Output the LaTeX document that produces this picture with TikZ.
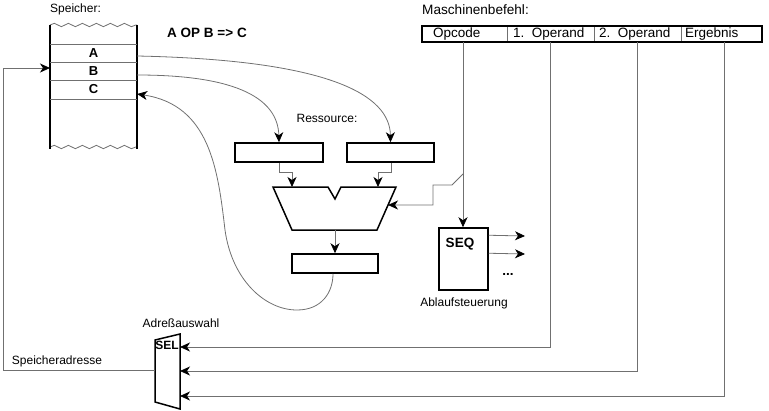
\documentclass[tikz,border=0pt]{standalone}
\usepackage{fontspec}
\setmainfont{Liberation Sans}
\usetikzlibrary{arrows.meta,decorations.pathmorphing,calc}
\definecolor{wiregray}{HTML}{707070}
\begin{document}
\begin{tikzpicture}[x=1pt,y=-1pt,
  lbl/.style={font=\fontsize{12}{14}\selectfont, inner sep=0pt},
  biglbl/.style={font=\fontsize{13.6}{16}\selectfont, inner sep=0pt},
  blbl/.style={font=\fontsize{13.5}{16}\selectfont\bfseries, inner sep=0pt},
  thickbox/.style={draw=black, line width=1.5pt},
  wire/.style={draw=wiregray, line width=0.8pt},
  arr/.style={wire, -{Stealth[length=10pt,width=9pt,inset=3pt,color=black]}},
  reg/.style={thickbox, minimum height=19pt, inner sep=0pt},
  cell/.style={inner sep=0pt, minimum width=87pt, minimum height=18pt, font=\fontsize{13}{15}\selectfont\bfseries},
  field/.style={inner sep=0pt, minimum height=16pt},
  ftext/.style={inner sep=0pt, anchor=west, font=\fontsize{13.5}{15}\selectfont},
  wavy/.style={wire, decorate, decoration={snake, amplitude=1.7pt, segment length=14pt}},
  ]
\useasboundingbox (0,0) rectangle (769,410);

% ---------- memory ----------
\node[lbl, anchor=west] (speicher) at (50,9) {Speicher:};
\node[blbl] (formel) at (207,33) {A OP B => C};
\draw[wavy] (50,25) -- (137,25);
\draw[wavy] (50,147) -- (137,147);
\draw[thickbox] (50,25) -- (50,149);
\draw[thickbox] (137,25) -- (137,149);
\foreach \yy in {44,62,80,99} \draw[wire] (50,\yy) -- (137,\yy);
\node[cell] (cellA) at (93.5,53) {A};
\node[cell] (cellB) at (93.5,71) {B};
\node[cell] (cellC) at (93.5,89.5) {C};
\coordinate (memin) at (50,68);

% ---------- instruction ----------
\node[biglbl, anchor=west] (befehl) at (422,10) {Maschinenbefehl:};
\node[field, minimum width=85pt] (opc) at (464.5,34) {};
\node[field, minimum width=87pt] (op1) at (550.5,34) {};
\node[field, minimum width=87pt] (op2) at (637.5,34) {};
\node[field, minimum width=81pt] (erg) at (721.5,34) {};
\node[ftext] (topc) at (433,34) {Opcode};
\node[ftext] (top1) at (513,34) {1.~~Operand};
\node[ftext] (top2) at (599,34) {2.~~Operand};
\node[ftext] (terg) at (685,34) {Ergebnis};
\draw[wire] (507,26) -- (507,42);
\draw[wire] (594,26) -- (594,42);
\draw[wire] (681,26) -- (681,42);
\draw[thickbox] (422,26) rectangle (762,42);

% ---------- resource ----------
\node[lbl] (ress) at (327,118) {Ressource:};
\node[reg, minimum width=88pt] (regL) at (279,152.5) {};
\node[reg, minimum width=87pt] (regR) at (390.5,152.5) {};
\node[reg, minimum width=86pt] (regO) at (335,263.5) {};
\draw[thickbox, line join=miter] (273,187) -- (328,187) -- (335,199) -- (341,187) -- (396,187) -- (377,230) -- (292,230) -- cycle;
\coordinate (aluinL) at (292,187);
\coordinate (aluinR) at (378,187);
\coordinate (aluout) at (335,230);
\coordinate (aluctl) at (388,205);

% ---------- sequencer ----------
\node[thickbox, minimum width=49pt, minimum height=62pt, inner sep=0pt] (seq) at (463.5,259) {};
\node[blbl] (seqlbl) at (460,244) {SEQ};
\node[blbl] (dots) at (508,274) {...};
\node[lbl] (ablauf) at (464,303) {Ablaufsteuerung};
\coordinate (br) at (463,174);
\coordinate (seqo1) at (525,236);
\coordinate (seqo2) at (525,254);

% ---------- address select ----------
\node[lbl] (adr) at (181,323) {Adreßauswahl};
\draw[thickbox, line join=miter] (155,340) -- (180,334) -- (180,409) -- (155,402) -- cycle;
\node[font=\fontsize{12}{14}\selectfont\bfseries, inner sep=0pt] (sellbl) at (167,345) {SEL};
\node[lbl] (spadr) at (57,361) {Speicheradresse};
\coordinate (selin1) at (180,347);
\coordinate (selin2) at (180,371);
\coordinate (selin3) at (180,396);
\coordinate (selout) at (155,370);

% ---------- connectors ----------
\draw[arr] ($(cellA.east)+(0,3)$) .. controls (330,60) and (390,95) .. (regR.north);
\draw[arr] ($(cellB.east)+(0,4)$) .. controls (240,75) and (278,100) .. (regL.north);
\draw[arr] (regL.south) -- ++(0,10) -| (aluinL);
\draw[arr] ($(regR.south)+(0.5,0)$) -- ++(0,10) -| (aluinR);
\draw[arr] (aluout) -- (regO.north);
\draw[arr] ($(regO.south)+(-2,0)$) .. controls (333,292) and (322,310) .. (297,310)
  .. controls (265,310) and (232,280) .. (225,230)
  .. controls (218,170) and (210,105) .. ($(cellC.east)+(0,4.5)$);
\draw[arr] (selout) -- (3,370) |- (memin);

\draw[arr] ($(opc.south)+(-1.5,0)$) -- ($(seq.north)+(-0.5,0)$);
\draw[arr] (br) -- (452,185) -- (433,185) |- (aluctl);
\draw[arr] ($(seq.north east)+(0,8)$) -- (seqo1);
\draw[arr] ($(seq.north east)+(0,26)$) -- (seqo2);

\draw[arr] (op1.south) |- (selin1);
\draw[arr] ($(op2.south)+(-0.5,0)$) |- (selin2);
\draw[arr] ($(erg.south)+(2.5,0)$) |- (selin3);
\end{tikzpicture}
\end{document}
